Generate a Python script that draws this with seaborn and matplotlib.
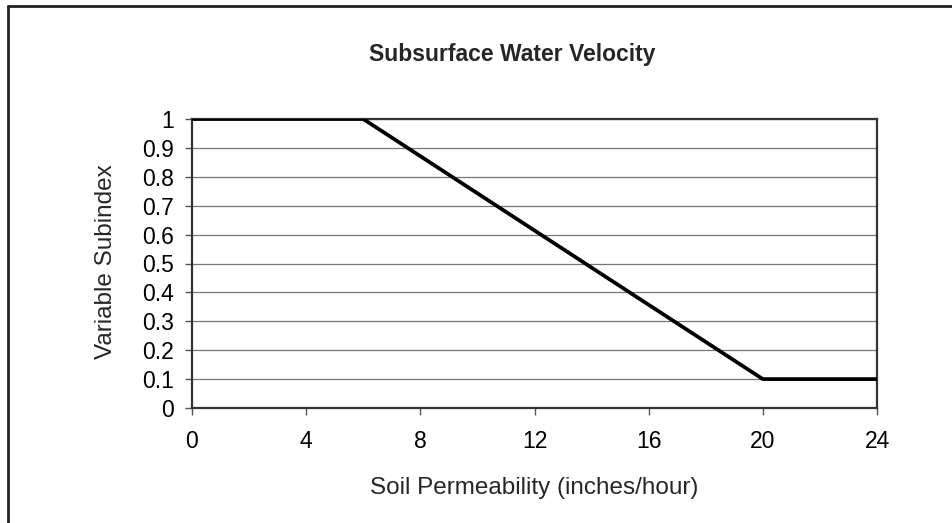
import matplotlib.pyplot as plt
import matplotlib.lines as mlines
import seaborn as sns
import pandas as pd

# Soil permeability (inches/hour) vs variable subindex
permeability = [0, 6, 20, 24]
subindex = [1.0, 1.0, 0.1, 0.1]
x_ticks = [0, 4, 8, 12, 16, 20, 24]
y_ticks = [0, 0.1, 0.2, 0.3, 0.4, 0.5, 0.6, 0.7, 0.8, 0.9, 1]
y_tick_labels = ['0', '0.1', '0.2', '0.3', '0.4', '0.5', '0.6', '0.7', '0.8', '0.9', '1']

sns.set_theme(style="white")
plt.rcParams['font.family'] = ['Liberation Sans', 'DejaVu Sans']

fig = plt.figure(figsize=(9.52, 5.23), dpi=100)
ax = fig.add_axes([192 / 952, 1 - 408 / 523, 685 / 952, 289 / 523])

df = pd.DataFrame({'x': permeability, 'y': subindex})
sns.lineplot(data=df, x='x', y='y', ax=ax, color='black', linewidth=2.7, zorder=3)

ax.set_xlim(0, 24)
ax.set_ylim(0, 1)
ax.set_xticks(x_ticks)
ax.set_yticks(y_ticks)
ax.set_yticklabels(y_tick_labels)
ax.yaxis.grid(True, color='#777777', linewidth=0.9)
ax.set_axisbelow(True)

for s in ax.spines.values():
    s.set_color('#333333')
    s.set_linewidth(1.6)

ax.tick_params(axis='both', direction='out', length=5, width=1, color='#555555',
               labelsize=16.5, labelcolor='black')
ax.tick_params(axis='x', pad=11, bottom=True)
ax.tick_params(axis='y', pad=8, left=True)

# title sits a bit left of the plot centre in the original
fig.text(512 / 952, 1 - 55 / 523, 'Subsurface Water Velocity', fontsize=16.5,
         fontweight='bold', ha='center', va='center')

ax.set_xlabel('Soil Permeability (inches/hour)', fontsize=17.5, va='center')
ax.xaxis.set_label_coords(0.5, -(488 - 408) / 289)
ax.set_ylabel('Variable Subindex', fontsize=17.5, va='center')
ax.yaxis.set_label_coords((106 - 192) / 685, (408 - 262) / 289)

# outer frame (left and top edges visible)
fig.add_artist(mlines.Line2D([8 / 952, 8 / 952], [0, 1 - 6 / 523], transform=fig.transFigure,
                             color='#222222', linewidth=2))
fig.add_artist(mlines.Line2D([8 / 952, 1], [1 - 6 / 523, 1 - 6 / 523], transform=fig.transFigure,
                             color='#222222', linewidth=2))

plt.savefig('out.png', dpi=100)
plt.close()
